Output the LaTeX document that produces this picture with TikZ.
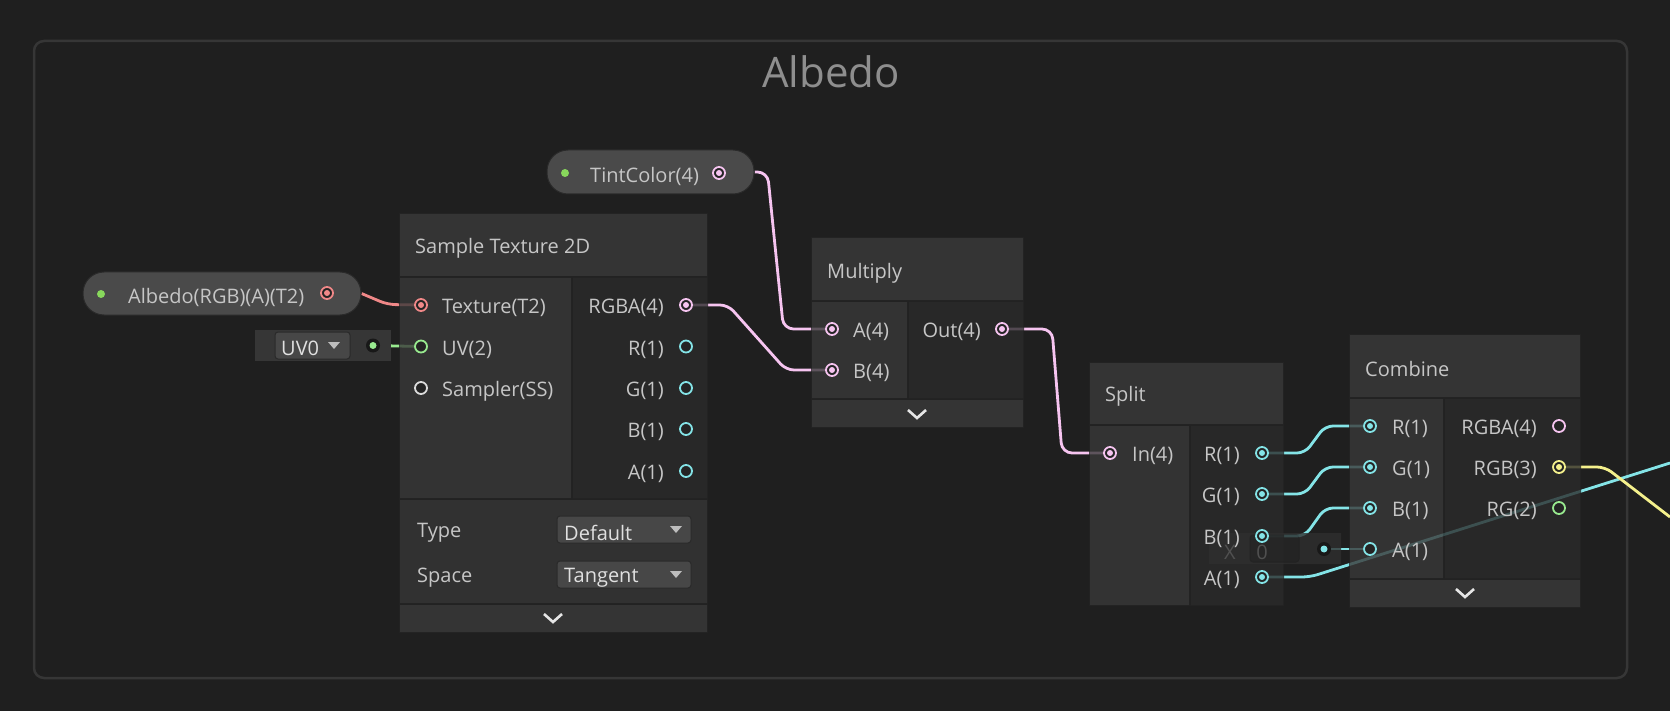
\documentclass[tikz,border=0pt]{standalone}
\usepackage{fontspec}
\setmainfont{Open Sans}
\definecolor{bgc}{HTML}{1F1F1F}
\definecolor{framec}{HTML}{363636}
\definecolor{titlec}{HTML}{8E8E8E}
\definecolor{lblc}{HTML}{C6C6C6}
\definecolor{hdrc}{HTML}{3A3A3A}
\definecolor{incolc}{HTML}{393939}
\definecolor{outcolc}{HTML}{2B2B2B}
\definecolor{setc}{HTML}{363636}
\definecolor{sepc}{HTML}{232323}
\definecolor{pillc}{HTML}{4A4A4A}
\definecolor{pillline}{HTML}{2A2A2A}
\definecolor{propc}{HTML}{88D85C}
\definecolor{portbg}{HTML}{242424}
\definecolor{texc}{HTML}{F08888}
\definecolor{vecfour}{HTML}{F6C4F0}
\definecolor{vecone}{HTML}{84E4E7}
\definecolor{vectwo}{HTML}{98EA8F}
\definecolor{vecthree}{HTML}{F4F08C}
\definecolor{smpc}{HTML}{DCDCDC}
\definecolor{dropc}{HTML}{474747}
\definecolor{dropline}{HTML}{2A2A2A}
\definecolor{droptxt}{HTML}{E0E0E0}
\definecolor{tric}{HTML}{BDBDBD}
\definecolor{chevc}{HTML}{E6E6E6}
\definecolor{fieldc}{HTML}{2F2F2F}
\definecolor{fieldin}{HTML}{262626}
\definecolor{fieldtxt}{HTML}{505050}
\definecolor{fieldport}{HTML}{181818}
\pgfdeclarelayer{bg}
\pgfdeclarelayer{wires}
\pgfsetlayers{bg,wires,main}

\begin{document}
\begin{tikzpicture}[x=1pt,y=-1pt,
	lbl/.style={text=lblc,font=\fontsize{20}{24}\selectfont,inner sep=0pt,yshift=-3pt},
	inl/.style={lbl,anchor=west},
	outl/.style={lbl,anchor=east},
	port/.style={circle,draw=#1,fill=portbg,line width=1.8pt,minimum size=12pt,inner sep=0pt},
	cport/.style={port=#1,path picture={\fill[#1] (path picture bounding box.center) circle (3pt);}},
	fport/.style={circle,fill=fieldport,minimum size=14pt,inner sep=0pt,path picture={\fill[#1] (path picture bounding box.center) circle (3.5pt);}},
	pill/.style={rounded corners=21pt,fill=pillc,draw=pillline,line width=1pt,minimum height=43pt,inner sep=0pt},
	gdot/.style={circle,fill=propc,minimum size=8pt,inner sep=0pt},
	wire/.style={draw=#1,line width=2.8pt,rounded corners=8pt},
	chev/.style={draw=chevc,line width=2.6pt},
	drop/.style={fill=dropc,draw=dropline,line width=1pt,rounded corners=3pt},
	nodebox/.style={transparency group,opacity=.8},
	]
	\begin{pgfonlayer}{bg}
		\fill[bgc] (0,0) rectangle (1670,711);
		\draw[framec,line width=2.5pt,rounded corners=10pt] (34,41) rectangle (1627,678);
	\end{pgfonlayer}
	\useasboundingbox (0,0) rectangle (1670,711);
	
	\node[text=titlec,font=\fontsize{42}{50}\selectfont] (grp) at (831,72) {Albedo};
	
	% properties
	\node[pill,minimum width=278pt] (alb) at (222,293.5) {};
	\node[gdot] (alb-dot) at (101,294) {};
	\node[inl] (alb-txt) at (128,294) {Albedo(RGB)(A)(T2)};
	\node[cport=texc] (alb-out) at (327,293) {};
	
	\node[pill,minimum width=207pt,minimum height=44pt] (tint) at (650.5,172) {};
	\node[gdot] (tint-dot) at (565,173) {};
	\node[inl] (tint-txt) at (590,173) {TintColor(4)};
	\node[cport=vecfour] (tint-out) at (719,173) {};
	
	% uv0 field
	\fill[setc] (255,330) rectangle (391,361);
	\draw[drop] (275,332) rectangle (350,359);
	\node[inl,text=droptxt] (uv0) at (281,345.5) {UV0};
	\fill[tric] (328,342) -- (340,342) -- (334,349) -- cycle;
	\node[fport=vectwo] (uv0-out) at (373,345.5) {};
	
	% sample texture 2d
	\begin{scope}[nodebox]
		\fill[sepc] (399,213) rectangle (708,633);
		\fill[hdrc] (400,214) rectangle (707,276);
		\fill[incolc] (400,278) rectangle (571,498);
		\fill[outcolc] (573,278) rectangle (707,498);
		\fill[setc] (400,500) rectangle (707,603);
		\fill[hdrc] (400,605) rectangle (707,632);
	\end{scope}
	\node[inl] (st-ttl) at (415,245) {Sample Texture 2D};
	\node[cport=texc] (tex-in) at (421,305) {};
	\node[inl] (tex-l) at (442,305) {Texture(T2)};
	\node[port=vectwo] (uv-in) at (421,346.5) {};
	\node[inl] (uv-l) at (442,346.5) {UV(2)};
	\node[port=smpc] (smp-in) at (421,388) {};
	\node[inl] (smp-l) at (442,388) {Sampler(SS)};
	\node[cport=vecfour] (rgba-out) at (686,305) {};
	\node[outl] (rgba-l) at (664,305) {RGBA(4)};
	\node[port=vecone] (r-out) at (686,346.5) {};
	\node[outl] (r-l) at (664,346.5) {R(1)};
	\node[port=vecone] (g-out) at (686,388) {};
	\node[outl] (g-l) at (664,388) {G(1)};
	\node[port=vecone] (b-out) at (686,429) {};
	\node[outl] (b-l) at (664,429) {B(1)};
	\node[port=vecone] (a-out) at (686,471) {};
	\node[outl] (a-l) at (664,471) {A(1)};
	\node[inl] (typ) at (417,529.5) {Type};
	\draw[drop] (557,516) rectangle (691,543);
	\node[inl,text=droptxt] (typ-val) at (564,529.5) {Default};
	\fill[tric] (670,526) -- (682,526) -- (676,533) -- cycle;
	\node[inl] (spc) at (417,574.5) {Space};
	\draw[drop] (557,561) rectangle (691,588);
	\node[inl,text=droptxt] (spc-val) at (564,574.5) {Tangent};
	\fill[tric] (670,571) -- (682,571) -- (676,578) -- cycle;
	\draw[chev] (544,614) -- (553,622) -- (562,614);
	
	% multiply
	\begin{scope}[nodebox]
		\fill[sepc] (811,237) rectangle (1024,428);
		\fill[hdrc] (812,238) rectangle (1023,300);
		\fill[incolc] (812,302) rectangle (907,398);
		\fill[outcolc] (909,302) rectangle (1023,398);
		\fill[hdrc] (812,400) rectangle (1023,427);
	\end{scope}
	\node[inl] (mul-ttl) at (827,270) {Multiply};
	\node[cport=vecfour] (ma-in) at (832,329) {};
	\node[inl] (ma-l) at (853,329) {A(4)};
	\node[cport=vecfour] (mb-in) at (832,370) {};
	\node[inl] (mb-l) at (853,370) {B(4)};
	\node[cport=vecfour] (mout) at (1002,329) {};
	\node[outl] (mout-l) at (981,329) {Out(4)};
	\draw[chev] (908,410) -- (917,418) -- (926,410);
	
	% split
	\begin{scope}[nodebox]
		\fill[sepc] (1089,362) rectangle (1284,606);
		\fill[hdrc] (1090,363) rectangle (1283,424);
		\fill[incolc] (1090,426) rectangle (1189,605);
		\fill[outcolc] (1191,426) rectangle (1283,605);
	\end{scope}
	% inline x field of combine
	\begin{scope}[nodebox]
		\fill[fieldc] (1209,533) rectangle (1341,564);
		\draw[fill=fieldin,draw=sepc,rounded corners=3pt] (1250,535) rectangle (1299,562);
	\end{scope}
	\node[lbl,text=fieldtxt] (xf-x) at (1230,549) {X};
	\node[lbl,text=fieldtxt] (xf-v) at (1262,549) {0};
	\node[fport=vecone] (xf-out) at (1324,549) {};
	\node[inl] (spl-ttl) at (1105,393) {Split};
	\node[cport=vecfour] (sin) at (1110,453) {};
	\node[inl] (sin-l) at (1132,453) {In(4)};
	\node[cport=vecone] (sr) at (1262,453) {};
	\node[outl] (sr-l) at (1240,453) {R(1)};
	\node[cport=vecone] (sg) at (1262,494) {};
	\node[outl] (sg-l) at (1240,494) {G(1)};
	\node[cport=vecone] (sb) at (1262,536) {};
	\node[outl] (sb-l) at (1240,536) {B(1)};
	\node[cport=vecone] (sa) at (1262,577) {};
	\node[outl] (sa-l) at (1240,577) {A(1)};
	
	% combine
	\begin{scope}[nodebox]
		\fill[sepc] (1349,334) rectangle (1581,608);
		\fill[hdrc] (1350,335) rectangle (1580,397);
		\fill[incolc] (1350,399) rectangle (1443,578);
		\fill[outcolc] (1445,399) rectangle (1580,578);
		\fill[hdrc] (1350,580) rectangle (1580,607);
	\end{scope}
	\node[inl] (cmb-ttl) at (1365,366) {Combine};
	\node[cport=vecone] (cr) at (1370,426) {};
	\node[inl] (cr-l) at (1392,426) {R(1)};
	\node[cport=vecone] (cg) at (1370,467) {};
	\node[inl] (cg-l) at (1392,467) {G(1)};
	\node[cport=vecone] (cb) at (1370,508) {};
	\node[inl] (cb-l) at (1392,508) {B(1)};
	\node[port=vecone] (ca) at (1370,549) {};
	\node[inl] (ca-l) at (1392,549) {A(1)};
	\node[port=vecfour] (crgba) at (1559,426) {};
	\node[outl] (crgba-l) at (1537,426) {RGBA(4)};
	\node[cport=vecthree] (crgb) at (1559,467) {};
	\node[outl] (crgb-l) at (1537,467) {RGB(3)};
	\node[port=vectwo] (crg) at (1559,508) {};
	\node[outl] (crg-l) at (1537,508) {RG(2)};
	\draw[chev] (1456,589) -- (1465,597) -- (1474,589);
	
	\coordinate (exa) at (1670,463);
	\coordinate (exrgb) at (1670,517);
	
	% wires
	\begin{pgfonlayer}{wires}
		\draw[wire=texc] (alb.east) -- ++(26,11) -- (tex-in);
		\draw[wire=vectwo] (uv0-out) -- (uv-in);
		\draw[wire=vecfour,rounded corners=10pt] (tint.east) -- ++(13,0) -- ++(16,157) -- (ma-in);
		\draw[wire=vecfour] (rgba-out) -- ++(42,0) -- ++(58,65) -- (mb-in);
		\draw[wire=vecfour,rounded corners=10pt] (mout) -- ++(50,0) -- ++(10,124) -- (sin);
		\draw[wire=vecone] (sr) -- ++(43,0) -- ++(20,-27) -- (cr);
		\draw[wire=vecone] (sg) -- ++(43,0) -- ++(20,-27) -- (cg);
		\draw[wire=vecone] (sb) -- ++(43,0) -- ++(20,-28) -- (cb);
		\draw[wire=vecone] (sa) -- ++(48,0) -- (exa);
		\draw[wire=vecone] (xf-out) -- (ca);
		\draw[wire=vecthree] (crgb) -- ++(46,0) -- (exrgb);
	\end{pgfonlayer}
\end{tikzpicture}
\end{document}
